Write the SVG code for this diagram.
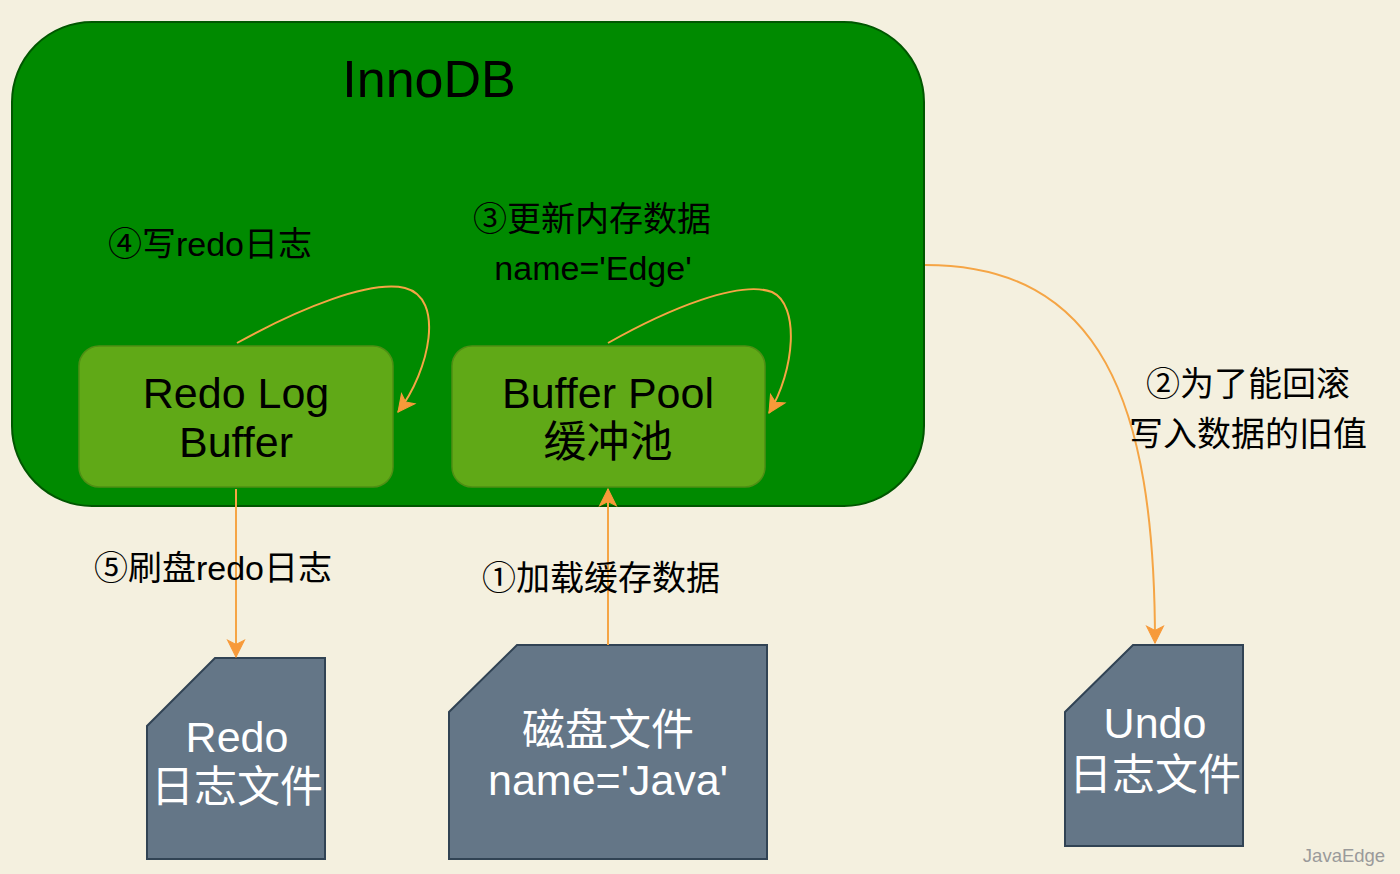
<svg xmlns="http://www.w3.org/2000/svg" width="1400" height="874" viewBox="0 0 1400 874">
<style>
text{font-family:"Liberation Sans","Noto Sans CJK SC",sans-serif;text-anchor:middle}
.lbl{font-size:34px;fill:#000}
.big{font-size:43px;fill:#000}
.wh{font-size:43px;fill:#fff}
.file{fill:#647687;stroke:#314354;stroke-width:2}
.inner{fill:#60a917;stroke:#4f8f14;stroke-width:1.5}
.edge{fill:none;stroke:#f5a545;stroke-width:2}
</style>
<defs>
<marker id="arr" viewBox="0 0 20 20" refX="18" refY="10" markerWidth="21" markerHeight="21" markerUnits="userSpaceOnUse" orient="auto">
<path d="M2,2 L18,10 L2,18 L6,10 Z" fill="#f79a3a" stroke="#f79a3a" stroke-width="1"/>
</marker>
</defs>
<rect width="1400" height="874" fill="#f4f0df"/>
<g id="innodb">
<rect x="12" y="22" width="912" height="484" rx="80" fill="#008a00" stroke="#005700" stroke-width="2"/>
<text x="429" y="97" style="font-size:52px" fill="#000">InnoDB</text>
</g>
<g id="redo-log-buffer">
<rect class="inner" x="79" y="346" width="314" height="141" rx="20"/>
<text class="big" x="236" y="408">Redo Log</text>
<text class="big" x="236" y="457">Buffer</text>
</g>
<g id="buffer-pool">
<rect class="inner" x="452" y="346" width="313" height="141" rx="20"/>
<text class="big" x="608" y="408">Buffer Pool</text>
<text class="big" x="608" y="457">缓冲池</text>
</g>
<g id="redo-file">
<path class="file" d="M215,658 L325,658 L325,859 L147,859 L147,726 Z"/>
<text class="wh" x="237" y="752">Redo</text>
<text class="wh" x="237" y="802">日志文件</text>
</g>
<g id="disk-file">
<path class="file" d="M517,645 L767,645 L767,859 L449,859 L449,712 Z"/>
<text class="wh" x="608" y="745">磁盘文件</text>
<text class="wh" x="608" y="795">name='Java'</text>
</g>
<g id="undo-file">
<path class="file" d="M1133,645 L1243,645 L1243,846 L1065,846 L1065,712 Z"/>
<text class="wh" x="1155" y="738">Undo</text>
<text class="wh" x="1155" y="790">日志文件</text>
</g>
<g id="connectors">
<path class="edge" marker-end="url(#arr)" d="M237,343 C300,308 370,280 405,288 C445,298 430,370 398,412"/>
<path class="edge" marker-end="url(#arr)" d="M608,343 C670,308 740,280 772,292 C800,305 795,370 769,413"/>
<path class="edge" marker-end="url(#arr)" d="M236,489 L236,657"/>
<path class="edge" marker-end="url(#arr)" d="M608,645 L608,489"/>
<path class="edge" marker-end="url(#arr)" d="M925,265 C1100,265 1155,400 1155,643"/>
</g>
<g id="labels">
<text class="lbl" x="210" y="256">④写redo日志</text>
<text class="lbl" x="592" y="231">③更新内存数据</text>
<text class="lbl" x="593" y="280">name='Edge'</text>
<text class="lbl" x="213" y="580">⑤刷盘redo日志</text>
<text class="lbl" x="601" y="590">①加载缓存数据</text>
<text class="lbl" x="1248" y="396">②为了能回滚</text>
<text class="lbl" x="1248" y="446">写入数据的旧值</text>
<text x="1344" y="862" style="font-size:18.5px" fill="#9a9a9a">JavaEdge</text>
</g>
</svg>
